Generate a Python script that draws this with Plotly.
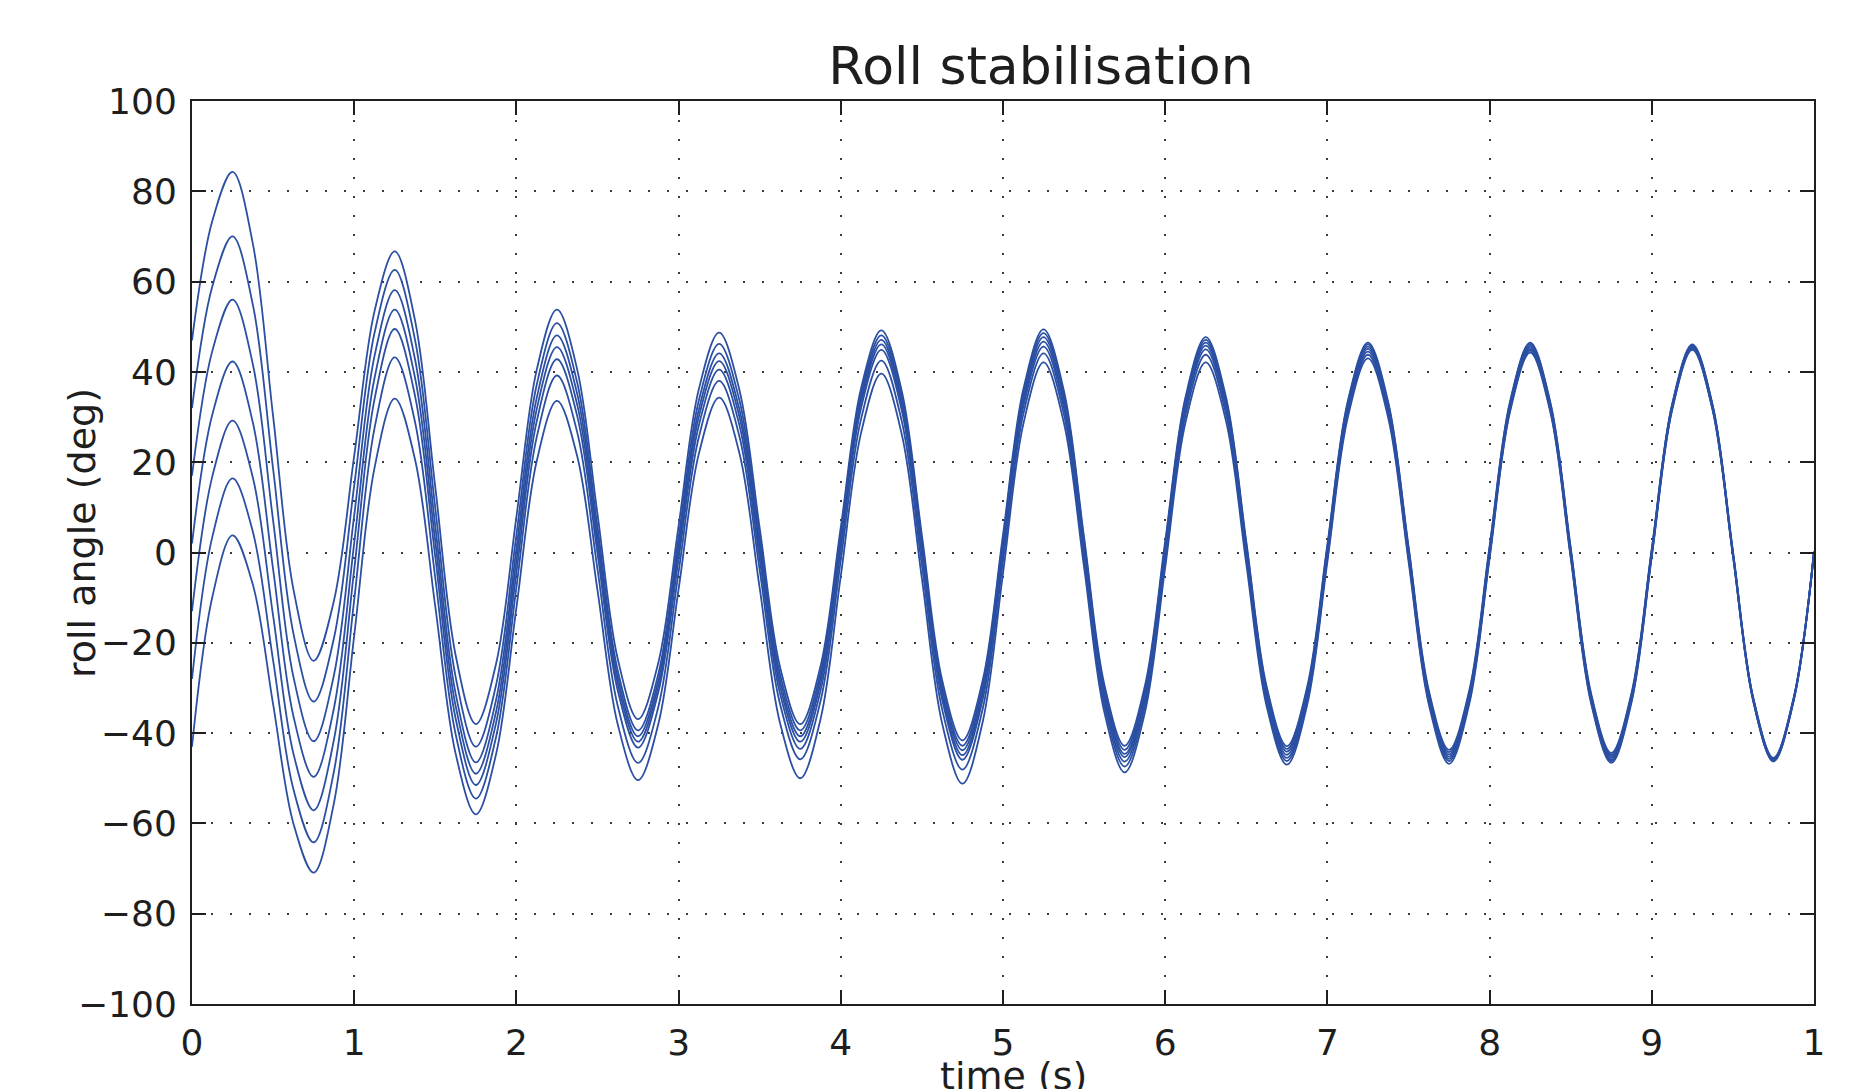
import plotly.graph_objects as go

# ---------------- data ----------------
time_s = [k / 8 for k in range(81)]  # sample times, 0 .. 10 s

roll_start_47 = [
    47.0, 73.4, 84.3, 68.4, 30.2, -8.1, -24.0, -10.7,
    21.4, 53.4, 66.7, 51.4, 14.4, -22.7, -38.0, -24.6,
    7.9, 40.4, 53.8, 40.5, 8.5, -23.6, -36.9, -24.4,
    5.9, 36.2, 48.7, 36.0, 5.4, -25.3, -38.0, -25.2,
    5.6, 36.4, 49.2, 35.9, 3.8, -28.3, -41.6, -28.3,
    3.9, 36.1, 49.4, 35.9, 3.3, -29.3, -42.8, -29.5,
    2.5, 34.4, 47.7, 34.4, 2.4, -29.6, -42.9, -29.8,
    1.8, 33.4, 46.5, 33.3, 1.4, -30.5, -43.7, -30.5,
    1.4, 33.3, 46.5, 33.2, 1.1, -31.1, -44.4, -31.1,
    0.9, 32.8, 46.1, 32.7, 0.3, -32.1, -45.5, -32.1,
    0.2,
]
roll_start_32 = [
    32.0, 58.9, 70.0, 54.9, 18.5, -17.9, -33.0, -19.0,
    14.8, 48.6, 62.6, 47.1, 9.8, -27.5, -43.0, -29.3,
    3.9, 37.1, 50.8, 37.6, 5.7, -26.2, -39.4, -26.9,
    3.4, 33.7, 46.2, 33.7, 3.4, -26.9, -39.4, -26.6,
    4.4, 35.3, 48.1, 34.8, 2.7, -29.5, -42.8, -29.4,
    2.9, 35.2, 48.6, 35.1, 2.5, -30.2, -43.7, -30.4,
    1.7, 33.8, 47.1, 33.8, 1.8, -30.2, -43.5, -30.4,
    1.3, 33.0, 46.1, 32.9, 1.0, -31.0, -44.2, -31.0,
    1.0, 33.0, 46.2, 32.9, 0.7, -31.5, -44.8, -31.5,
    0.6, 32.6, 45.9, 32.5, 0.2, -32.2, -45.6, -32.2,
    0.2,
]
roll_start_17 = [
    17.0, 44.6, 56.0, 41.7, 7.1, -27.5, -41.8, -27.2,
    8.2, 43.5, 58.1, 42.8, 5.8, -31.2, -46.5, -32.6,
    0.8, 34.2, 48.1, 35.1, 3.7, -27.7, -40.7, -28.3,
    1.7, 31.7, 44.1, 31.7, 1.7, -28.3, -40.7, -27.8,
    3.2, 34.2, 47.1, 33.8, 1.7, -30.5, -43.8, -30.4,
    2.0, 34.3, 47.7, 34.2, 1.6, -31.1, -44.6, -31.3,
    1.0, 33.2, 46.5, 33.2, 1.2, -30.8, -44.1, -31.0,
    0.8, 32.5, 45.6, 32.4, 0.5, -31.5, -44.7, -31.4,
    0.6, 32.5, 45.8, 32.5, 0.4, -31.8, -45.1, -31.8,
    0.3, 32.4, 45.7, 32.3, -0.1, -32.4, -45.8, -32.4,
    0.1,
]
roll_start_2 = [
    2.0, 30.5, 42.3, 28.8, -3.7, -36.2, -49.7, -34.5,
    2.1, 38.6, 53.8, 38.7, 2.4, -33.9, -49.0, -35.2,
    -1.8, 31.7, 45.5, 32.7, 1.8, -29.1, -41.9, -29.6,
    0.3, 30.1, 42.4, 30.1, 0.3, -29.6, -41.9, -29.0,
    2.1, 33.2, 46.1, 32.8, 0.6, -31.6, -44.9, -31.5,
    0.9, 33.3, 46.7, 33.2, 0.7, -31.8, -45.3, -32.0,
    0.3, 32.5, 45.8, 32.5, 0.5, -31.5, -44.8, -31.6,
    0.2, 31.9, 45.1, 31.9, -0.1, -32.0, -45.2, -31.9,
    0.1, 32.1, 45.4, 32.1, -0.1, -32.2, -45.5, -32.2,
    0.0, 32.2, 45.5, 32.1, -0.2, -32.5, -45.9, -32.5,
    0.0,
]
roll_start_m13 = [
    -13.0, 16.8, 29.2, 16.6, -14.0, -44.5, -57.1, -41.5,
    -3.8, 33.9, 49.5, 34.7, -1.0, -36.7, -51.5, -37.7,
    -4.4, 29.0, 42.8, 30.2, -0.2, -30.6, -43.2, -30.9,
    -1.4, 28.2, 40.5, 28.2, -1.5, -31.2, -43.5, -30.6,
    0.7, 32.0, 44.9, 31.6, -0.5, -32.6, -45.9, -32.5,
    -0.2, 32.2, 45.6, 32.1, -0.4, -32.8, -46.3, -32.9,
    -0.7, 31.6, 45.0, 31.7, -0.3, -32.2, -45.5, -32.3,
    -0.5, 31.3, 44.5, 31.3, -0.6, -32.5, -45.7, -32.4,
    -0.4, 31.7, 45.0, 31.7, -0.5, -32.6, -45.9, -32.5,
    -0.3, 31.9, 45.3, 31.9, -0.4, -32.6, -46.0, -32.5,
    0.0,
]
roll_start_m28 = [
    -28.0, 3.4, 16.4, 4.6, -23.9, -52.4, -64.2, -48.5,
    -10.5, 27.5, 43.2, 28.9, -5.7, -40.2, -54.5, -40.8,
    -7.7, 25.5, 39.2, 26.6, -3.7, -34.0, -46.6, -34.2,
    -4.3, 25.6, 38.0, 25.7, -3.9, -33.5, -45.8, -32.9,
    -1.7, 29.6, 42.5, 29.2, -2.8, -34.8, -48.1, -34.6,
    -2.0, 30.6, 44.1, 30.7, -1.7, -34.0, -47.4, -34.0,
    -1.8, 30.4, 43.8, 30.6, -1.2, -33.0, -46.2, -33.0,
    -1.2, 30.6, 43.8, 30.6, -1.2, -33.0, -46.2, -32.9,
    -0.8, 31.4, 44.7, 31.4, -0.8, -32.9, -46.2, -32.8,
    -0.6, 31.7, 45.1, 31.7, -0.6, -32.8, -46.2, -32.7,
    -0.1,
]
roll_start_m43 = [
    -43.0, -9.9, 3.8, -7.1, -33.6, -60.0, -70.9, -55.5,
    -18.4, 18.7, 34.1, 20.6, -12.0, -44.5, -58.0, -44.6,
    -12.2, 20.2, 33.6, 21.3, -8.4, -38.1, -50.4, -38.0,
    -8.1, 21.9, 34.3, 22.0, -7.9, -37.7, -50.0, -36.9,
    -5.2, 26.5, 39.6, 26.3, -5.8, -37.9, -51.2, -37.5,
    -4.6, 28.4, 42.1, 28.8, -3.3, -35.4, -48.7, -35.4,
    -3.3, 28.8, 42.1, 29.1, -2.5, -34.0, -47.0, -33.8,
    -2.0, 29.8, 43.0, 29.8, -1.9, -33.6, -46.8, -33.5,
    -1.3, 31.0, 44.3, 31.0, -1.2, -33.3, -46.6, -33.2,
    -0.9, 31.5, 44.9, 31.5, -0.7, -32.9, -46.3, -32.8,
    -0.2,
]

x_tick_vals = [0, 1, 2, 3, 4, 5, 6, 7, 8, 9, 10]
x_tick_text = ["0", "1", "2", "3", "4", "5", "6", "7", "8", "9", "1"]
y_tick_vals = [-100, -80, -60, -40, -20, 0, 20, 40, 60, 80, 100]

curves = [roll_start_47, roll_start_32, roll_start_17, roll_start_2,
          roll_start_m13, roll_start_m28, roll_start_m43]

# ---------------- figure ----------------
FONT = "DejaVu Sans"
INK = "#1e1e1e"
LINE = "#2B4FA2"

fig = go.Figure()
for ys in curves:
    fig.add_trace(go.Scatter(
        x=time_s, y=ys, mode="lines",
        line=dict(color=LINE, width=1.8, shape="spline", smoothing=1.0),
        showlegend=False, hoverinfo="skip",
    ))

axis_common = dict(
    showline=True, linecolor=INK, linewidth=2, mirror="ticks",
    ticks="inside", ticklen=14, tickwidth=1.5, tickcolor=INK,
    showgrid=True, gridcolor="#3a3a3a", gridwidth=1.5, griddash="2px,17px",
    zeroline=False, automargin=False,
    tickfont=dict(family=FONT, size=36, color=INK),
)

fig.update_xaxes(
    range=[0, 10], tickmode="array", tickvals=x_tick_vals, ticktext=x_tick_text,
    ticklabelstandoff=6,
    **axis_common,
)
fig.update_yaxes(
    range=[-100, 100], tickmode="array", tickvals=y_tick_vals,
    ticklabelstandoff=6,
    **axis_common,
)

fig.update_layout(
    width=1869, height=1089,
    margin=dict(l=192, r=55, t=101, b=85, pad=0),
    paper_bgcolor="white", plot_bgcolor="white",
    font=dict(family=FONT, size=36, color=INK),
    title=dict(
        text="Roll stabilisation",
        font=dict(family=FONT, size=52, color=INK),
        x=1041 / 1869, xanchor="center", xref="container",
        y=1 - 66 / 1089, yanchor="middle", yref="container",
    ),
    annotations=[
        dict(
            text="roll angle (deg)", textangle=-90,
            xref="paper", yref="paper",
            x=(82 - 192) / 1622, y=(1004 - 533) / 903,
            xanchor="center", yanchor="middle", showarrow=False,
            font=dict(family=FONT, size=38, color=INK),
        ),
        dict(
            text="time (s)",
            xref="paper", yref="paper",
            x=(1014 - 192) / 1622, y=(1004 - 1076) / 903,
            xanchor="center", yanchor="middle", showarrow=False,
            font=dict(family=FONT, size=38, color=INK),
        ),
    ],
)

fig.write_html("out.html", config={"displayModeBar": False})

with open("out.html", "r", encoding="utf-8") as fh:
    html = fh.read()
html = html.replace("<head>", "<head><style>html,body{margin:0;padding:0;overflow:hidden;}</style>", 1)
with open("out.html", "w", encoding="utf-8") as fh:
    fh.write(html)
